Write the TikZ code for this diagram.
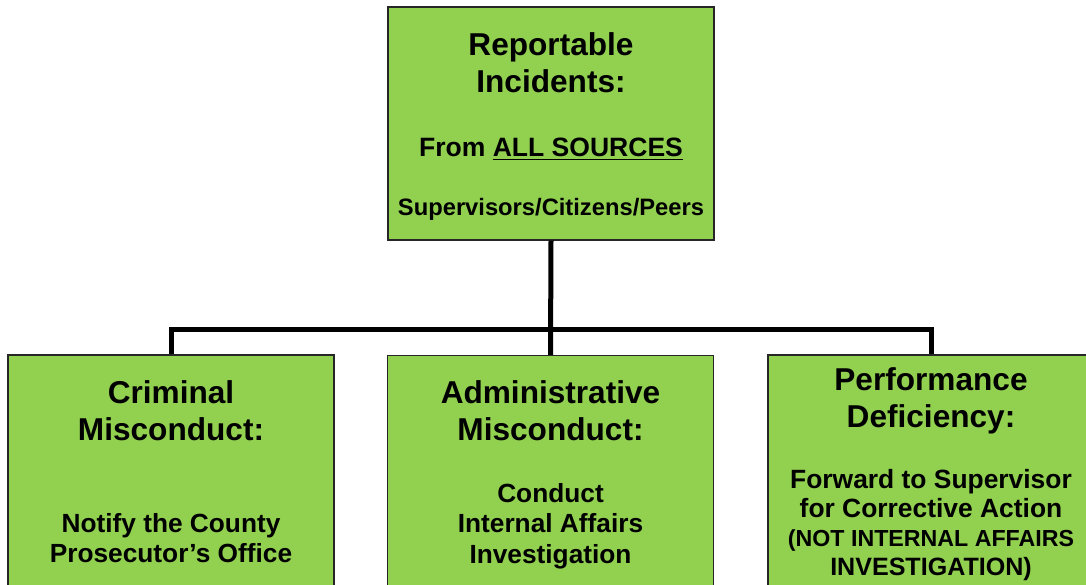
\documentclass[tikz,border=0pt]{standalone}
\usepackage{fontspec}
\setmainfont{Liberation Sans}
\usepackage{tikz}
\definecolor{boxgreen}{HTML}{92D050}
\definecolor{boxline}{HTML}{262626}

\tikzset{
	box/.style={draw=boxline, line width=1pt, fill=boxgreen,
		minimum width=244.5pt, minimum height=174.75pt, inner sep=0},
	head/.style={anchor=north, align=center, inner sep=0,
		font=\bfseries\fontsize{23.7}{27.75}\selectfont},
	body/.style={anchor=north, align=center, inner sep=0,
		font=\bfseries\fontsize{19.7}{23}\selectfont},
	link/.style={line width=3.75pt}
}

\begin{document}
\begin{tikzpicture}[x=0.75pt, y=-0.75pt]
			\useasboundingbox (0,0) rectangle (1086,585);
			\clip (0,0) rectangle (1086,585);

			% Boxes
			\node[box] (rep) at (551,123.5) {};
			\node[box] (crim) at (171,471.5) {};
			\node[box] (admin) at (550.5,472) {};
			\node[box] (perf) at (931,471.5) {};

			% Texts
			\node[head] (reptitle) at (551,32) {Reportable\\Incidents:};
			\node[body, font=\bfseries\fontsize{19.9}{23}\selectfont] (repsrc) at (551,138) {From \underline{ALL SOURCES}};
			\node[body, font=\bfseries\fontsize{17.8}{21}\selectfont] (repwho) at (551,198) {Supervisors/Citizens/Peers};

			\node[head] (crimtitle) at (171,380) {Criminal\\Misconduct:};
			\node[body] (crimtext) at (171,513) {Notify the County\\Prosecutor’s Office};

			\node[head] (admintitle) at (550.5,380) {Administrative\\Misconduct:};
			\node[body] (admintext) at (550.5,483) {Conduct\\Internal Affairs\\Investigation};

			\node[head] (perftitle) at (931,367) {Performance\\Deficiency:};
			\node[body, font=\bfseries\fontsize{19.8}{21.75}\selectfont] (perftext) at (931,469) {Forward to Supervisor\\for Corrective Action\\{\fontsize{17.4}{21.75}\selectfont(NOT INTERNAL AFFAIRS}\\{\fontsize{18.8}{21.75}\selectfont INVESTIGATION)}};

			% Connectors
			\coordinate (bus) at (551,329);
			\draw[link] (rep.south) -- (admin.north);
			\draw[link] (crim.north) |- (bus) -| (perf.north);
		\end{tikzpicture}
\end{document}
